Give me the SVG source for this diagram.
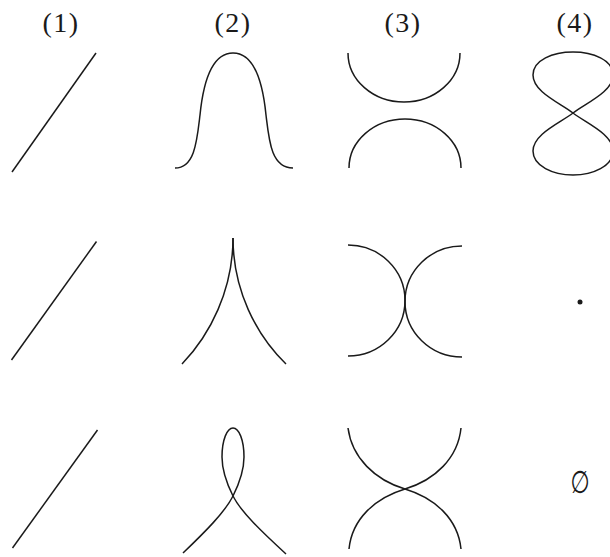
<svg xmlns="http://www.w3.org/2000/svg" width="610" height="557" viewBox="0 0 610 557">
<style>
.c{fill:none;stroke:#1a1a1a;stroke-width:1.5;stroke-linecap:butt}
.lbl{font-family:"Liberation Serif","Times New Roman",serif;font-size:28px;fill:#1a1a1a;text-anchor:middle;letter-spacing:1.5px}
.sym{font-family:"DejaVu Sans",sans-serif;font-size:26px;fill:#1a1a1a;text-anchor:middle}
</style>
<rect width="610" height="557" fill="#fff"/>
<g id="labels">
<text class="lbl" x="61" y="32">(1)</text>
<text class="lbl" x="233" y="32">(2)</text>
<text class="lbl" x="403" y="32">(3)</text>
<text class="lbl" x="575" y="32">(4)</text>
</g>
<g id="row1">
<path class="c" d="M96,53 L12,172"/>
<path class="c" d="M175,168 C195,168 197,140 200,115 C204,75 215,53 233,53 C251,53 262,75 266,115 C269,140 271,168 293,168"/>
<path class="c" d="M348,53 A56,49 0 0 0 460,53"/>
<path class="c" d="M349,168 A56,49 0 0 1 461,168"/>
<path class="c" d="M573,113 C560,103 533,92 533,75 C533,60 553,52 573,52 C593,52 613,60 613,75 C613,92 586,103 573,113 C560,123 533,134 533,151 C533,166 553,175 573,175 C593,175 613,166 613,151 C613,134 586,123 573,113 Z"/>
</g>
<g id="row2">
<path class="c" d="M96.5,241.5 L11.5,360"/>
<path class="c" d="M233,238 C233,290 210,335 182,364"/>
<path class="c" d="M233,238 C233,290 256,335 286,364"/>
<path class="c" d="M348,245 A57,55.5 0 0 1 348,356"/>
<path class="c" d="M462,246 A57,55.5 0 0 0 462,357"/>
<circle cx="580" cy="302" r="2.5" fill="#1a1a1a"/>
</g>
<g id="row3">
<path class="c" d="M97.5,430 L12.5,548"/>
<path class="c" d="M183,553 C205,532 225,512 233,496 C239,484 244,472 244,457 C244,440 239,428 233,428 C227,428 222,440 222,457 C222,472 227,484 233,496 C241,512 262,532 286,554"/>
<path class="c" d="M348,428 C352,458 375,480 405,489 C435,498 458,519 461,549"/>
<path class="c" d="M461,428 C458,458 435,480 405,489 C375,498 352,519 349,549"/>
<text class="sym" transform="translate(580,493) scale(0.85,1.2)">∅</text>
</g>
</svg>
